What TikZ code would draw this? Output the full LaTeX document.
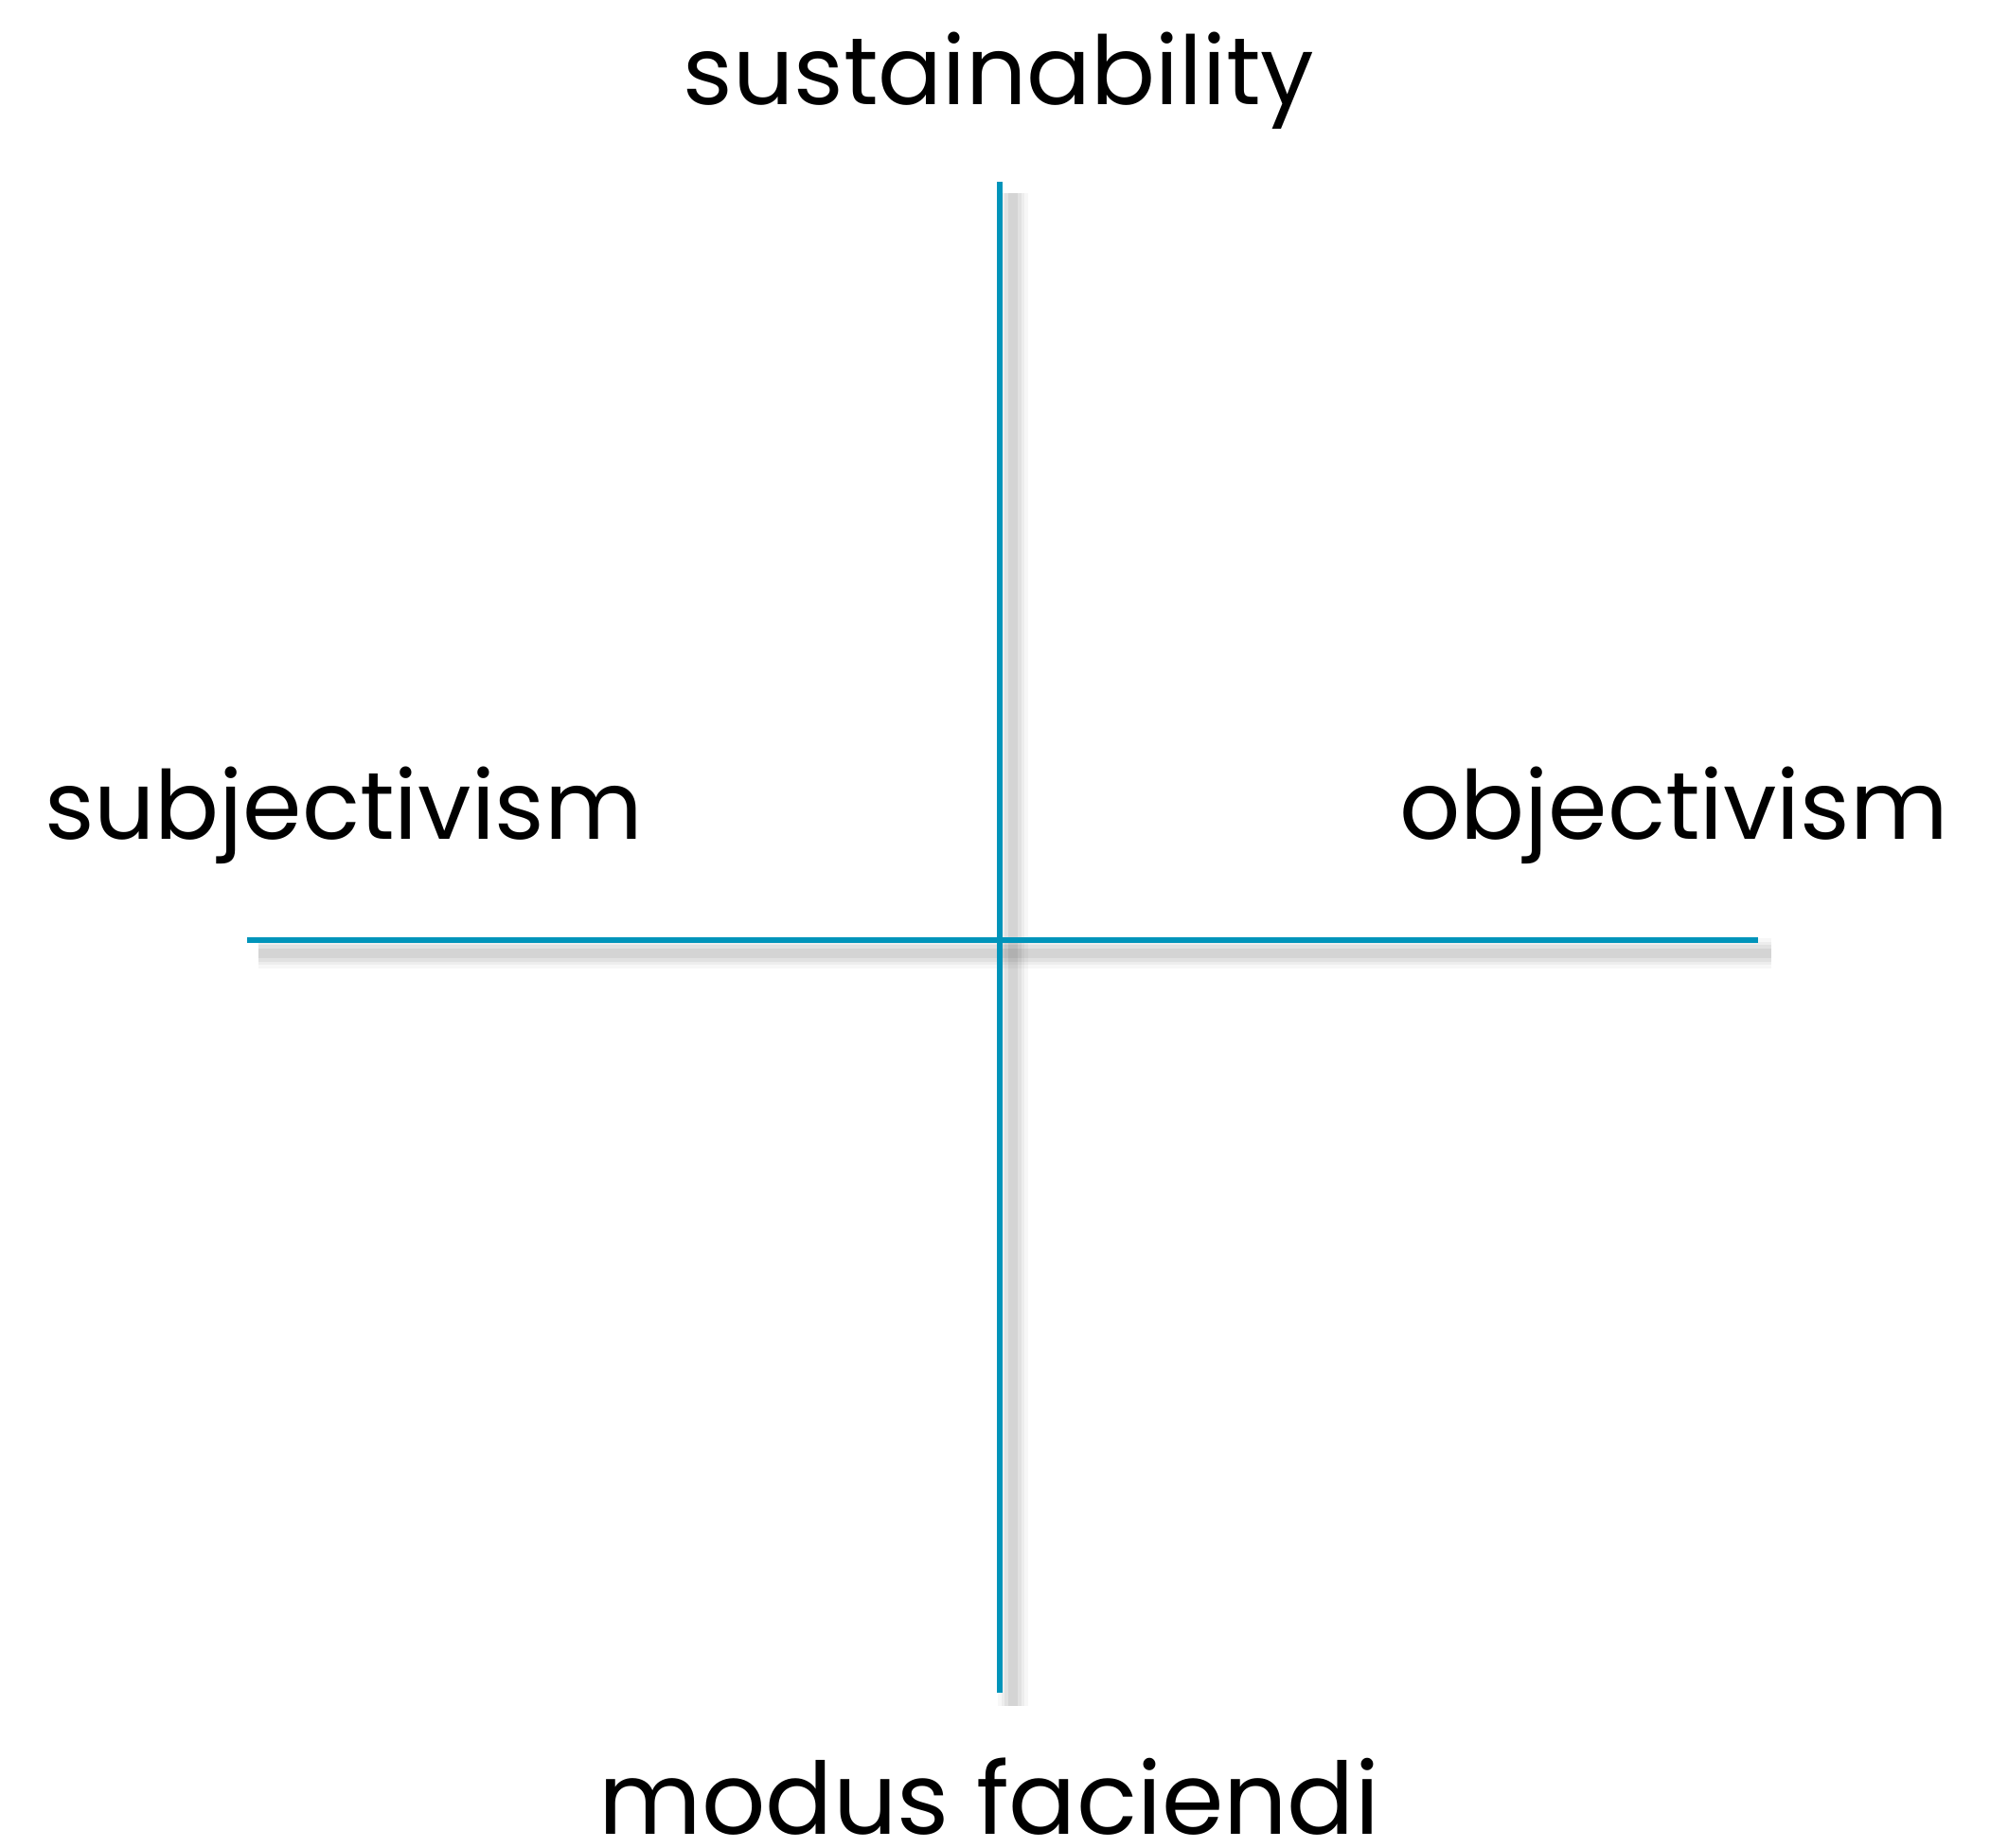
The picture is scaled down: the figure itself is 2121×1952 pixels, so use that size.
\documentclass[tikz,border=0pt]{standalone}
\usepackage{fontspec}
\setmainfont{Poppins}
\usepackage{tikz}
\usetikzlibrary{positioning,calc}

\definecolor{axisblue}{RGB}{0,148,186}

\begin{document}
\begin{tikzpicture}[
    x=0.01cm, y=-0.01cm,
    axis/.style={draw=axisblue, line width=1.7pt},
    axisshadow/.style={draw=black, line cap=butt},
    pole/.style={anchor=base, inner sep=0pt, font=\fontsize{28.6}{34}\selectfont},
  ]
    \useasboundingbox (0,0) rectangle (2121,1952);

    % ends of the two axes
    \coordinate (top) at (1056,192);
    \coordinate (bottom) at (1056,1788);
    \coordinate (left) at (261,993);
    \coordinate (right) at (1857,993);

    % soft shadow under the axes
    \foreach \w/\o in {9/0.03, 7/0.04, 5/0.05, 3/0.06} {
      \draw[axisshadow, line width=\w pt, opacity=\o] ($(top)+(14,12)$) -- ($(bottom)+(14,14)$);
      \draw[axisshadow, line width=\w pt, opacity=\o] ($(left)+(12,14)$) -- ($(right)+(14,14)$);
    }

    \draw[axis] (top) -- (bottom);
    \draw[axis] (left) -- (right);

    \node[pole] (sust) at (1055,111) {sustainability};
    \node[pole] (subj) at (363,886) {subjectivism};
    \node[pole] (obj) at (1768,886) {objectivism};
    \node[pole, font=\fontsize{30}{36}\selectfont] (modus) at (1045,1937) {modus faciendi};
  \end{tikzpicture}
\end{document}
